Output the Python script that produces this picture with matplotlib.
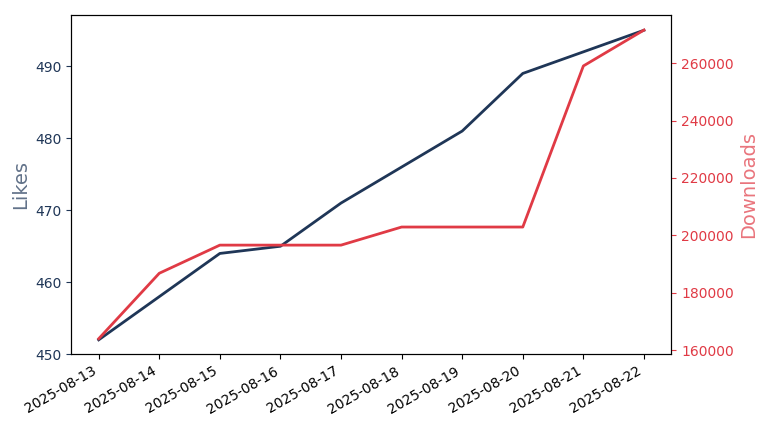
import matplotlib
matplotlib.use("Agg")
import matplotlib.pyplot as plt

dates = ["2025-08-13","2025-08-14","2025-08-15","2025-08-16","2025-08-17",
         "2025-08-18","2025-08-19","2025-08-20","2025-08-21","2025-08-22"]
likes = [452, 458, 464, 465, 471, 476, 481, 489, 492, 495]
downloads = [164000, 186800, 196600, 196600, 196600, 202900, 202900, 202900, 259000, 271500]

navy = "#1f3657"
red = "#e03a45"

fig, ax = plt.subplots(figsize=(7.68, 4.32), dpi=100)
fig.subplots_adjust(left=0.093, right=0.874, top=0.965, bottom=0.18)
x = list(range(len(dates)))
ax.plot(x, likes, color=navy, lw=2)
ax.set_ylim(450.0, 497.1)
ax.set_ylabel("Likes", color=navy, alpha=0.7, fontsize=14)
ax.tick_params(axis="y", colors=navy)
ax.set_xticks(x)
ax.set_xticklabels(dates, rotation=30, ha="right")
ax.set_xlim(-0.45, 9.45)

ax2 = ax.twinx()
ax2.plot(x, downloads, color=red, lw=2)
ax2.set_ylim(158600, 276700)
ax2.set_ylabel("Downloads", color=red, alpha=0.7, fontsize=14)
ax2.tick_params(axis="y", colors=red)

fig.savefig("out.png", dpi=100)
